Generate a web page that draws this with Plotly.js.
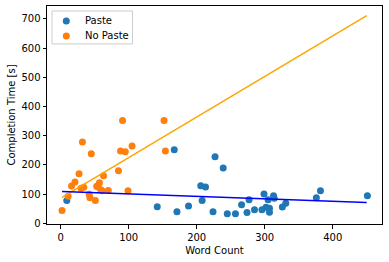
<!DOCTYPE html>
<html>
<head>
<meta charset="utf-8">
<script src="https://cdn.plot.ly/plotly-3.0.1.min.js"></script>
<style>html,body{margin:0;padding:0;background:#fff;}#chart{width:389px;height:262px;}</style>
</head>
<body>
<div id="chart"></div>
<script>
const pasteWords = [9,142,167,171,188,206,213,208,227,239,224,245,257,266,274,277,285,296,299,302,305,307,307,313,314,326,331,376,382,451];
const pasteTimes = [78,57,252,40,60,129,125,78,228,190,40,33,33,64,37,81,47,47,101,55,81,52,38,95,86,56,69,88,112,95];
const noPasteWords = [2,11,16,21,27,32,30,34,45,42,43,51,53,57,55,59,63,61,70,85,88,95,91,99,105,152,154];
const noPasteTimes = [44,93,128,142,170,279,120,124,238,100,88,78,127,139,125,115,163,112,113,180,248,245,352,112,265,352,248];
const fitX = [2,450];
const pasteFitY = [109,72];
const noPasteFitY = [89,711];
const legendLabels = ['Paste','No Paste'];
const legendColors = ['#1f77b4','#ff7f0e'];

const font = {family:'DejaVu Sans, sans-serif', size:10, color:'#000'};
const data = [
  {x:pasteWords, y:pasteTimes, mode:'markers', type:'scatter', name:legendLabels[0], marker:{color:legendColors[0], size:7}},
  {x:noPasteWords, y:noPasteTimes, mode:'markers', type:'scatter', name:legendLabels[1], marker:{color:legendColors[1], size:7}},
  {x:fitX, y:noPasteFitY, mode:'lines', type:'scatter', line:{color:'orange', width:1.5}},
  {x:fitX, y:pasteFitY, mode:'lines', type:'scatter', line:{color:'blue', width:1.5}}
];

// legend drawn manually (paper coords within plot area)
const px = v => (v-47)/335;
const py = v => (224.5-v)/218.5;
const rowY = [21, 36];
const shapes = [
  {type:'rect', xref:'paper', yref:'paper', x0:px(52), x1:px(132.5), y0:py(44), y1:py(11), line:{color:'#cccccc', width:1}, fillcolor:'rgba(255,255,255,0.8)', layer:'above'}
];
const annotations = [];
legendLabels.forEach((t,i)=>{
  shapes.push({type:'circle', xref:'paper', yref:'paper', xsizemode:'pixel', ysizemode:'pixel', xanchor:px(66.3), yanchor:py(rowY[i]), x0:-3.5, x1:3.5, y0:-3.5, y1:3.5, fillcolor:legendColors[i], line:{width:0}, layer:'above'});
  annotations.push({xref:'paper', yref:'paper', x:px(83), y:py(rowY[i]), xanchor:'left', yanchor:'middle', text:t, showarrow:false, font:font});
});

const layout = {
  width:389, height:262,
  margin:{l:47, r:7, t:6, b:37.5, pad:0},
  paper_bgcolor:'#fff', plot_bgcolor:'#fff',
  font:font,
  showlegend:false,
  shapes:shapes, annotations:annotations,
  xaxis:{range:[-20.1,472.5], showgrid:false, zeroline:false, showline:true, mirror:true, linecolor:'#000', linewidth:1,
    ticks:'outside', ticklen:3.5, tickcolor:'#000', tickvals:[0,100,200,300,400], tickfont:font,
    title:{text:'Word Count', font:font, standoff:5}},
  yaxis:{range:[-2,744], showgrid:false, zeroline:false, showline:true, mirror:true, linecolor:'#000', linewidth:1,
    ticks:'outside', ticklen:3.5, tickcolor:'#000', tickvals:[0,100,200,300,400,500,600,700], tickfont:font,
    title:{text:'Completion Time [s]', font:font, standoff:3}}
};
Plotly.newPlot('chart', data, layout, {staticPlot:true, displayModeBar:false});
</script>
</body>
</html>
